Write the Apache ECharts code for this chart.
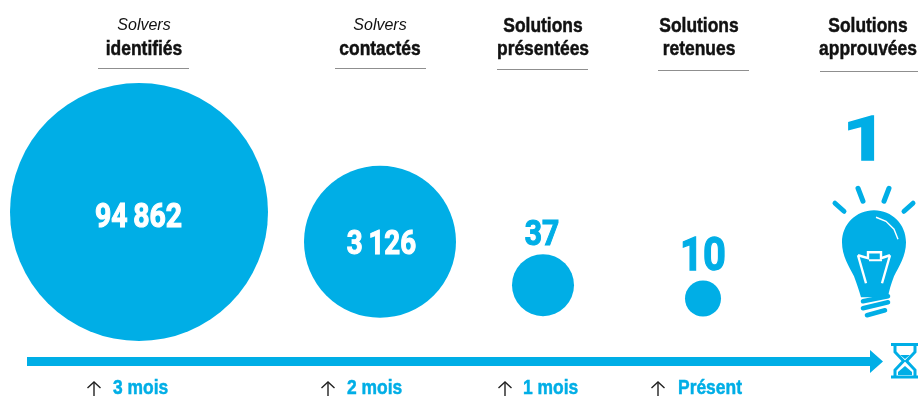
<!DOCTYPE html>
<html>
<head>
<meta charset="utf-8">
<style>
  html, body { margin: 0; padding: 0; background: #fff; }
  #chart { width: 918px; height: 396px; }
</style>
<script src="https://cdn.jsdelivr.net/npm/echarts@6/dist/echarts.min.js"></script>
</head>
<body>
<div id="chart"></div>
<script>
// data
const stageTop = ['Solvers', 'Solvers', 'Solutions', 'Solutions', 'Solutions']
const stageBottom = ['identifiés', 'contactés', 'présentées', 'retenues', 'approuvées']
const stageValues = [94862, 3126, 37, 10, 1]
const delays = ['3 mois', '2 mois', '1 mois', 'Présent']

// layout
const BLUE = '#00aee6'
const BOLD = 'bold 21px "Liberation Sans", sans-serif'
const bubbleX = [139, 380, 543, 703, 874]
const bubbleSize = [258, 152, 62, 36, 0]
const bubbleNudge = [0, -2.5, -1, 0, 0]
const labelX = [138.5, 381.5, 542, 703, 865]
const labelDy = [6.5, 2, -50, -40, -176]
const labelSize = [33, 33, 35, 47, 62]
const labelScale = [0.86, 0.84, 0.86, 0.85, 1.25]
const labelStroke = [1.1, 1.1, 1.1, 1.3, 1.6]
const headerX = [144, 380, 543, 699, 868]
const ruleX = [[98, 189], [335, 426], [497, 588], [658, 749], [820, 918]]
const ruleY = [68.5, 68.5, 69.5, 70.5, 71.5]
const delayArrowX = [94, 328, 505, 658]
const delayTextX = [113, 347, 523, 678]

function boldText (text, x, y, color, align) {
  return {
    type: 'text',
    x: x,
    y: y,
    scaleX: 0.83,
    style: {
      text: text,
      align: align,
      verticalAlign: 'middle',
      fill: color,
      stroke: color,
      lineWidth: 0.5,
      font: BOLD
    }
  }
}

function headerGraphics () {
  const out = []
  stageTop.forEach((top, i) => {
    if (top === 'Solvers') {
      out.push({
        type: 'text',
        x: headerX[i],
        y: 26,
        style: {
          text: top,
          align: 'center',
          verticalAlign: 'middle',
          fill: '#111',
          font: 'italic 16px "Liberation Sans", sans-serif'
        }
      })
    } else {
      out.push(boldText(top, headerX[i], 26.5, '#111', 'center'))
    }
    out.push(boldText(stageBottom[i], headerX[i], 49.5, '#111', 'center'))
    out.push({
      type: 'line',
      shape: { x1: ruleX[i][0], y1: ruleY[i], x2: ruleX[i][1], y2: ruleY[i] },
      style: { stroke: '#8f8f8f', lineWidth: 1 }
    })
  })
  return out
}

function delayGraphics () {
  const out = []
  delays.forEach((d, i) => {
    const ax = delayArrowX[i]
    out.push({
      type: 'polyline',
      shape: { points: [[ax - 6.5, 388], [ax, 382], [ax + 6.5, 388]] },
      style: { stroke: '#222', lineWidth: 1.4, fill: null }
    })
    out.push({
      type: 'line',
      shape: { x1: ax, y1: 382, x2: ax, y2: 396 },
      style: { stroke: '#222', lineWidth: 1.4 }
    })
    out.push(boldText(d, delayTextX[i], 388.5, BLUE, 'left'))
  })
  return out
}

function timelineGraphics () {
  const glass = { stroke: BLUE, lineWidth: 3, fill: null }
  return [
    {
      type: 'polygon',
      shape: { points: [[27, 357], [870, 357], [870, 350], [883, 361.5], [870, 373], [870, 366], [27, 366]] },
      style: { fill: BLUE }
    },
    { type: 'line', shape: { x1: 891, y1: 344.5, x2: 918, y2: 344.5 }, style: { stroke: BLUE, lineWidth: 3 } },
    { type: 'line', shape: { x1: 891, y1: 377, x2: 918, y2: 377 }, style: { stroke: BLUE, lineWidth: 3 } },
    {
      type: 'polyline',
      shape: { points: [[895, 345], [895, 352], [903.5, 361], [895, 370], [895, 376]] },
      style: glass
    },
    {
      type: 'polyline',
      shape: { points: [[915, 345], [915, 352], [906.5, 361], [915, 370], [915, 376]] },
      style: glass
    },
    {
      type: 'polygon',
      shape: { points: [[900, 355], [910, 355], [905, 359]] },
      style: { fill: BLUE }
    },
    {
      type: 'polygon',
      shape: { points: [[898, 375], [898, 372], [905, 366], [912, 372], [912, 375]] },
      style: { fill: BLUE }
    }
  ]
}

// bulb drawn around its data point, only the last stage has one
function bulbShapes (p) {
  const cx = p[0]
  const cy = p[1] - 78
  const stroke = (x1, y1, x2, y2, w) => ({
    type: 'line',
    shape: { x1: cx + x1, y1: cy + y1, x2: cx + x2, y2: cy + y2 },
    style: { stroke: BLUE, lineWidth: w, lineCap: 'round' }
  })
  const white = (pts, w) => ({
    type: 'polyline',
    shape: { points: pts.map(q => [cx + q[0], cy + q[1]]) },
    style: { stroke: '#fff', lineWidth: w, fill: null }
  })
  return [
    stroke(-39, -39, -30, -31, 5),
    stroke(-16, -54, -11, -41, 5),
    stroke(15, -54, 10, -41, 5),
    stroke(39, -39, 30, -31, 5),
    {
      type: 'path',
      shape: {
        pathData: 'M0 -32 C18 -32 32 -18 32 0 C32 14 25 24 20 34 C17 42 15 48 14 55 L-13 55 C-15 48 -17 42 -20 34 C-25 24 -32 14 -32 0 C-32 -18 -18 -32 0 -32 Z',
        x: cx - 32,
        y: cy - 32,
        width: 64,
        height: 87,
        layout: 'center'
      },
      style: { fill: BLUE }
    },
    stroke(-11, 59, 14, 54, 4.6),
    stroke(-11, 66, 14, 60, 4.6),
    stroke(-7, 73, 11, 68, 4.6),
    white([[-16, 13], [-8, 41]], 2.4),
    white([[16, 13], [8, 41]], 2.4),
    white([[-16, 13], [-6, 16], [-6, 10], [7, 10], [7, 16], [16, 13]], 2.4),
    white([[-5, 18], [8, 18]], 2),
    white([[2, -25], [12, -21], [20, -13], [24, -3]], 1.4)
  ]
}

function renderStage (params, api) {
  const i = params.dataIndex
  const value = stageValues[i]
  const p = api.coord([api.value(0), api.value(1)])
  const text = {
    type: 'text',
    x: labelX[i],
    y: p[1] + labelDy[i],
    scaleX: labelScale[i],
    style: {
      text: String(value).replace(/\B(?=(\d{3})+$)/g, '\u2009'),
      align: 'center',
      verticalAlign: 'middle',
      fill: i < 2 ? '#fff' : BLUE,
      stroke: i < 2 ? '#fff' : BLUE,
      lineWidth: labelStroke[i],
      font: 'bold ' + labelSize[i] + 'px Roboto, "Liberation Sans", sans-serif'
    }
  }
  const shapes = i === 4 ? bulbShapes(p) : []
  return { type: 'group', children: shapes.concat([text]) }
}

const chart = echarts.init(document.getElementById('chart'), null, { renderer: 'canvas' })
chart.setOption({
  animation: false,
  backgroundColor: '#fff',
  grid: { left: 0, right: 0, top: 211.5, height: 108.75 },
  xAxis: { type: 'value', min: 0, max: 918, show: false },
  yAxis: { type: 'log', logBase: 10, min: 1, max: 100000, show: false },
  graphic: { elements: headerGraphics().concat(delayGraphics(), timelineGraphics()) },
  series: [
    {
      type: 'scatter',
      clip: false,
      data: stageValues.map((v, i) => ({
        value: [bubbleX[i], v],
        symbolSize: bubbleSize[i],
        symbolOffset: [0, bubbleNudge[i]]
      })),
      itemStyle: { color: BLUE, opacity: 1 }
    },
    {
      type: 'custom',
      coordinateSystem: 'cartesian2d',
      clip: false,
      z: 3,
      renderItem: renderStage,
      encode: { x: 0, y: 1 },
      data: stageValues.map((v, i) => [bubbleX[i], v])
    }
  ]
})
</script>
</body>
</html>
